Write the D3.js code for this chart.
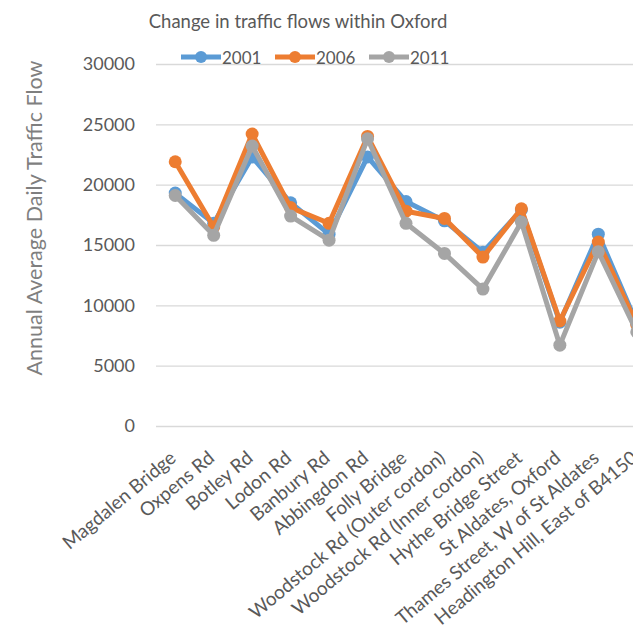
<!DOCTYPE html>
<html>
<head>
<meta charset="utf-8">
<script src="https://cdn.jsdelivr.net/npm/d3@7.9.0/dist/d3.min.js"></script>
<style>
  body { margin: 0; background: #fff; }
  svg { display: block; font-family: Lato, "Open Sans", sans-serif; }
</style>
</head>
<body>
<svg id="chart" width="633" height="635"></svg>
<script>
const sites = ['Magdalen Bridge', 'Oxpens Rd', 'Botley Rd', 'Lodon Rd', 'Banbury Rd',
  'Abbingdon Rd', 'Folly Bridge', 'Woodstock Rd (Outer cordon)', 'Woodstock Rd (Inner cordon)',
  'Hythe Bridge Street', 'St Aldates, Oxford', 'Thames Street, W of St Aldates',
  'Headington Hill, East of B4150'];
const years = ['2001', '2006', '2011'];
const flow2001 = [19300, 16800, 22300, 18500, 15900, 22300, 18600, 17000, 14400, 17900, 8600, 15900, 8500];
const flow2006 = [21900, 16500, 24200, 18100, 16800, 24000, 17800, 17200, 14000, 18000, 8700, 15250, 8400];
const flow2011 = [19100, 15800, 23200, 17400, 15400, 23800, 16800, 14300, 11350, 16900, 6700, 14450, 7800];
const yTicks = [0, 5000, 10000, 15000, 20000, 25000, 30000];
const colors = ['#5B9BD5', '#ED7D31', '#A5A5A5'];

const series = years.map((y, i) => ({
  year: y,
  values: [flow2001, flow2006, flow2011][i],
  color: colors[i]
}));

const svg = d3.select('#chart');
const x = d3.scalePoint().domain(sites).range([156, 656]).padding(0.5);
const yScale = d3.scaleLinear().domain([0, 30000]).range([426, 64]);

// gridlines + y labels
const yAxis = d3.axisLeft(yScale).tickValues(yTicks).tickFormat(d3.format('d'))
  .tickSize(-500).tickPadding(21);
const gy = svg.append('g').attr('transform', 'translate(156,0)').call(yAxis);
gy.select('.domain').remove();
gy.selectAll('.tick line').attr('stroke', '#d9d9d9').attr('stroke-width', 1.3);
gy.selectAll('.tick text').attr('fill', '#595959').style('font-size', '18px')
  .style('font-family', 'Lato, sans-serif');

// category labels (slanted a bit flatter than 45deg, like the original)
svg.append('g').selectAll('text').data(sites).join('text')
  .attr('transform', d => `translate(${x(d) + 2},${460}) rotate(-40)`)
  .attr('text-anchor', 'end')
  .attr('fill', '#595959')
  .style('font-size', '19px')
  .text(d => d);

// series
const line = d3.line().x((d, i) => x(sites[i])).y(d => yScale(d));
series.forEach(s => {
  const g = svg.append('g');
  g.append('path').attr('d', line(s.values)).attr('fill', 'none')
    .attr('stroke', s.color).attr('stroke-width', 5).attr('stroke-linejoin', 'round');
  g.selectAll('circle').data(s.values).join('circle')
    .attr('cx', (d, i) => x(sites[i])).attr('cy', d => yScale(d))
    .attr('r', 6.5).attr('fill', s.color);
});

// title
svg.append('text').attr('x', 298).attr('y', 28).attr('text-anchor', 'middle')
  .attr('fill', '#595959').style('font-size', '18.5px')
  .text('Change in traffic flows within Oxford');

// y axis title
svg.append('text').attr('transform', 'translate(42,218) rotate(-90)')
  .attr('text-anchor', 'middle').attr('fill', '#7f7f7f').style('font-size', '21.5px')
  .text('Annual Average Daily Traffic Flow');

// legend
const legend = svg.append('g').selectAll('g').data(series).join('g')
  .attr('transform', (d, i) => `translate(${181 + i * 94},57)`);
legend.append('line').attr('x1', 0).attr('x2', 40).attr('stroke', d => d.color).attr('stroke-width', 5);
legend.append('circle').attr('cx', 20).attr('r', 6).attr('fill', d => d.color);
legend.append('text').attr('x', 41).attr('y', 6.5).attr('fill', '#595959')
  .style('font-size', '17px').text(d => d.year);
</script>
</body>
</html>
